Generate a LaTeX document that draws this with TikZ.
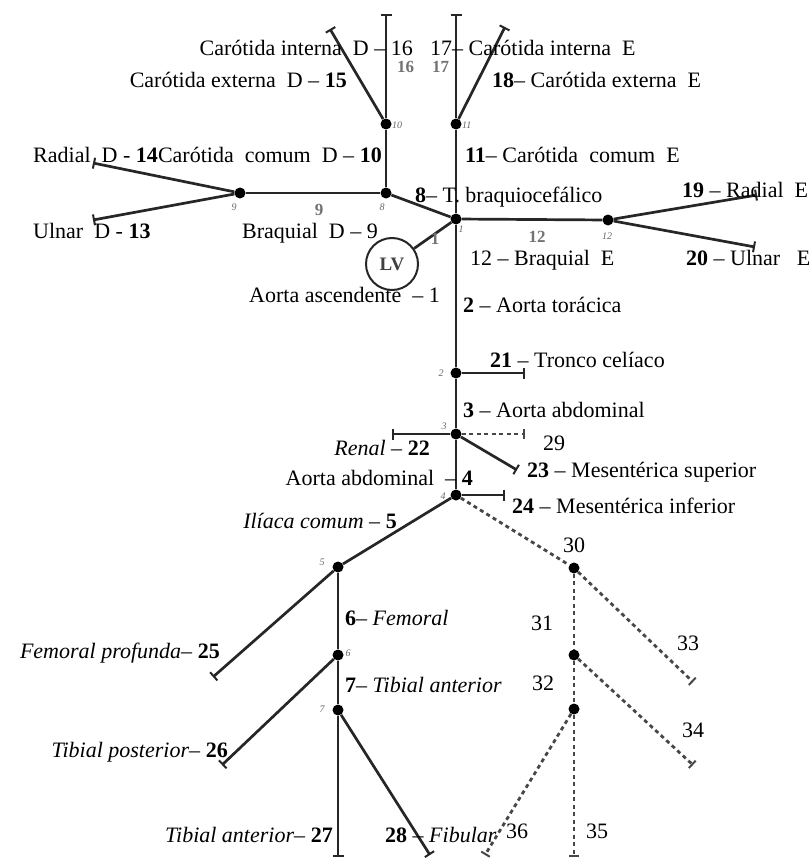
\documentclass[tikz,border=0pt]{standalone}
\usepackage{fontspec}
\setmainfont{Liberation Serif}
\usetikzlibrary{arrows.meta}
\begin{document}
\begin{tikzpicture}[x=1pt,y=-1pt,
  vessel/.style={line width=2.7pt, draw=black!85},
  branch/.style={vessel, -{Bar[width=11pt,line width=2pt]}},
  dotvessel/.style={line width=2.8pt, draw=black!72, dash pattern=on 4pt off 3.5pt},
  dotbranch/.style={dotvessel, -{Bar[width=10pt,line width=2pt]}},
  junction/.style={circle, fill=black, inner sep=0pt, minimum size=11pt},
  lbl/.style={font=\fontsize{22}{26}\selectfont, inner sep=0pt},
  seg/.style={font=\fontsize{17}{20}\selectfont\bfseries, text=black!55, inner sep=0pt},
  tinylbl/.style={font=\fontsize{10}{12}\selectfont\itshape, text=black!60, inner sep=0pt},
]
\useasboundingbox (0,0) rectangle (810,859);

% junctions of the arterial tree
\node[junction] (n10) at (386,124) {};
\node[junction] (n11) at (456,124) {};
\node[junction] (n8)  at (386,193) {};
\node[junction] (n9)  at (240,193) {};
\node[junction] (n1)  at (456,219) {};
\node[junction] (n12) at (608,220) {};
\node[junction] (n2)  at (456,373) {};
\node[junction] (n3)  at (456,434) {};
\node[junction] (n4)  at (456,495) {};
\node[junction] (n5)  at (338,567) {};
\node[junction] (n6)  at (338,655) {};
\node[junction] (n7)  at (338,710) {};
\node[junction] (n30) at (574,568) {};
\node[junction] (n31) at (574,655) {};
\node[junction] (n32) at (574,709) {};

% left ventricle
\node[circle, draw=black!85, line width=2pt, minimum size=52pt, inner sep=0pt,
      font=\fontsize{19}{21}\selectfont\bfseries, text=black!75] (lv) at (392,264) {LV};

% free ends of the terminal branches
\coordinate (e16) at (386,14);
\coordinate (e15) at (330,29);
\coordinate (e17) at (456,14);
\coordinate (e18) at (505,27);
\coordinate (e14) at (93,163);
\coordinate (e13) at (93,220);
\coordinate (e19) at (757,195);
\coordinate (e20) at (755,247);
\coordinate (e21) at (525,373);
\coordinate (e22) at (392,434);
\coordinate (e29) at (525,434);
\coordinate (e23) at (517,470);
\coordinate (e24) at (505,495);
\coordinate (e25) at (213,677);
\coordinate (e26) at (222,765);
\coordinate (e27) at (338,857);
\coordinate (e28) at (430,855);
\coordinate (e33) at (693,682);
\coordinate (e34) at (693,765);
\coordinate (e35) at (574,857);
\coordinate (e36) at (485,855);

% main trunk
\draw[vessel] (n11) -- (n1) -- (n2) -- (n3) -- (n4);
\draw[vessel] (lv) -- (n1);
\draw[vessel] (n1) -- (n8);
\draw[vessel] (n8) -- (n10);
\draw[vessel] (n8) -- (n9);
\draw[vessel] (n1) -- (n12);
\draw[vessel] (n4) -- (n5);
\draw[vessel] (n5) -- (n6);
\draw[vessel] (n6) -- (n7);

% terminal branches
\draw[branch] (n10) -- (e16);
\draw[branch] (n10) -- (e15);
\draw[branch] (n11) -- (e17);
\draw[branch] (n11) -- (e18);
\draw[branch] (n9) -- (e14);
\draw[branch] (n9) -- (e13);
\draw[branch] (n12) -- (e19);
\draw[branch] (n12) -- (e20);
\draw[branch] (n2) -- (e21);
\draw[branch] (n3) -- (e22);
\draw[branch] (n3) -- (e23);
\draw[branch] (n4) -- (e24);
\draw[branch] (n5) -- (e25);
\draw[branch] (n6) -- (e26);
\draw[branch] (n7) -- (e27);
\draw[branch] (n7) -- (e28);

% dotted branches
\draw[dotbranch] (n3) -- (e29);
\draw[dotvessel] (n4) -- (n30);
\draw[dotvessel] (n30) -- (n31);
\draw[dotvessel] (n31) -- (n32);
\draw[dotbranch] (n30) -- (e33);
\draw[dotbranch] (n31) -- (e34);
\draw[dotbranch] (n32) -- (e35);
\draw[dotbranch] (n32) -- (e36);

% segment numbers on the vessels
\node[seg, anchor=base west] (s16) at (397,73) {16};
\node[seg, anchor=base west] (s17) at (432,73) {17};
\node[seg, anchor=base] (s9) at (319,215) {9};
\node[seg, anchor=base] (s12) at (537,242) {12};
\node[seg, anchor=base] (s1) at (435,244) {1};

% junction numbers
\node[tinylbl, anchor=west] (j10) at (392,125) {10};
\node[tinylbl, anchor=west] (j11) at (462,125) {11};
\node[tinylbl] (j9) at (234,207) {9};
\node[tinylbl] (j8) at (382,207) {8};
\node[tinylbl] (j1) at (461,229) {1};
\node[tinylbl] (j12) at (607,236) {12};
\node[tinylbl] (j2) at (441,373) {2};
\node[tinylbl] (j3) at (444,426) {3};
\node[tinylbl] (j4) at (443,496) {4};
\node[tinylbl] (j5) at (322,562) {5};
\node[tinylbl] (j6) at (348,653) {6};
\node[tinylbl] (j7) at (322,709) {7};

% vessel names, left side
\node[lbl, anchor=base east] (tCID) at (413,56) {Carótida interna\ \ D – 16};
\node[lbl, anchor=base east] (tCED) at (347,87) {Carótida externa\ \ D – \textbf{15}};
\node[lbl, anchor=base west] (tRD)  at (33,162) {Radial\ \ D - \textbf{14}};
\node[lbl, anchor=base east] (tCCD) at (382,162) {Carótida\ \ comum\ \ D – \textbf{10}};
\node[lbl, anchor=base west] (tUD)  at (33,238) {Ulnar\ \ D - \textbf{13}};
\node[lbl, anchor=base east] (tBD)  at (378,238) {Braquial\ \ D – 9};
\node[lbl, anchor=base east] (tAA)  at (440,302) {Aorta ascendente\ \ – 1};
\node[lbl, anchor=base east] (tRen) at (430,455) {\textit{Renal} – \textbf{22}};
\node[lbl, anchor=base east] (tAb4) at (473,485) {Aorta abdominal\ \ – \textbf{4}};
\node[lbl, anchor=base east] (tIli) at (397,528) {\textit{Ilíaca comum} – \textbf{5}};
\node[lbl, anchor=base east] (tFP)  at (220,658) {\textit{Femoral profunda}– \textbf{25}};
\node[lbl, anchor=base east] (tTP)  at (228,757) {\textit{Tibial posterior}– \textbf{26}};
\node[lbl, anchor=base east] (tTA)  at (333,842) {\textit{Tibial anterior}– \textbf{27}};

% vessel names, right side
\node[lbl, anchor=base west] (tCIE) at (430,56) {17– Carótida interna\ \ E};
\node[lbl, anchor=base west] (tCEE) at (492,87) {\textbf{18}– Carótida externa\ \ E};
\node[lbl, anchor=base west] (tCCE) at (465,162) {\textbf{11}– Carótida\ \ comum\ \ E};
\node[lbl, anchor=base west] (tTB)  at (415,202) {\textbf{8}– T. braquiocefálico};
\node[lbl, anchor=base west] (tRE)  at (682,197) {\textbf{19} – Radial\ \ E};
\node[lbl, anchor=base west] (tUE)  at (686,265) {\textbf{20} – Ulnar\ \ \ E};
\node[lbl, anchor=base west] (tBE)  at (470,265) {12 – Braquial\ \ E};
\node[lbl, anchor=base west] (tAT)  at (463,312) {\textbf{2} – Aorta torácica};
\node[lbl, anchor=base west] (tTC)  at (490,367) {\textbf{21} – Tronco celíaco};
\node[lbl, anchor=base west] (tAb3) at (463,417) {\textbf{3} – Aorta abdominal};
\node[lbl, anchor=base west] (t29)  at (543,450) {29};
\node[lbl, anchor=base west] (tMS)  at (527,477) {\textbf{23} – Mesentérica superior};
\node[lbl, anchor=base west] (tMI)  at (512,513) {\textbf{24} – Mesentérica inferior};
\node[lbl, anchor=base west] (tFem) at (345,625) {\textbf{6}– \textit{Femoral}};
\node[lbl, anchor=base west] (tTA7) at (345,692) {\textbf{7}– \textit{Tibial anterior}};
\node[lbl, anchor=base west] (tFib) at (385,842) {\textbf{28} – \textit{Fibular}};

% numbers of the dotted branches
\node[lbl, anchor=base] (t30) at (574,552) {30};
\node[lbl, anchor=base west] (t31) at (531,630) {31};
\node[lbl, anchor=base west] (t32) at (532,690) {32};
\node[lbl, anchor=base west] (t33) at (677,650) {33};
\node[lbl, anchor=base west] (t34) at (682,737) {34};
\node[lbl, anchor=base west] (t35) at (586,838) {35};
\node[lbl, anchor=base west] (t36) at (506,838) {36};
\end{tikzpicture}
\end{document}
